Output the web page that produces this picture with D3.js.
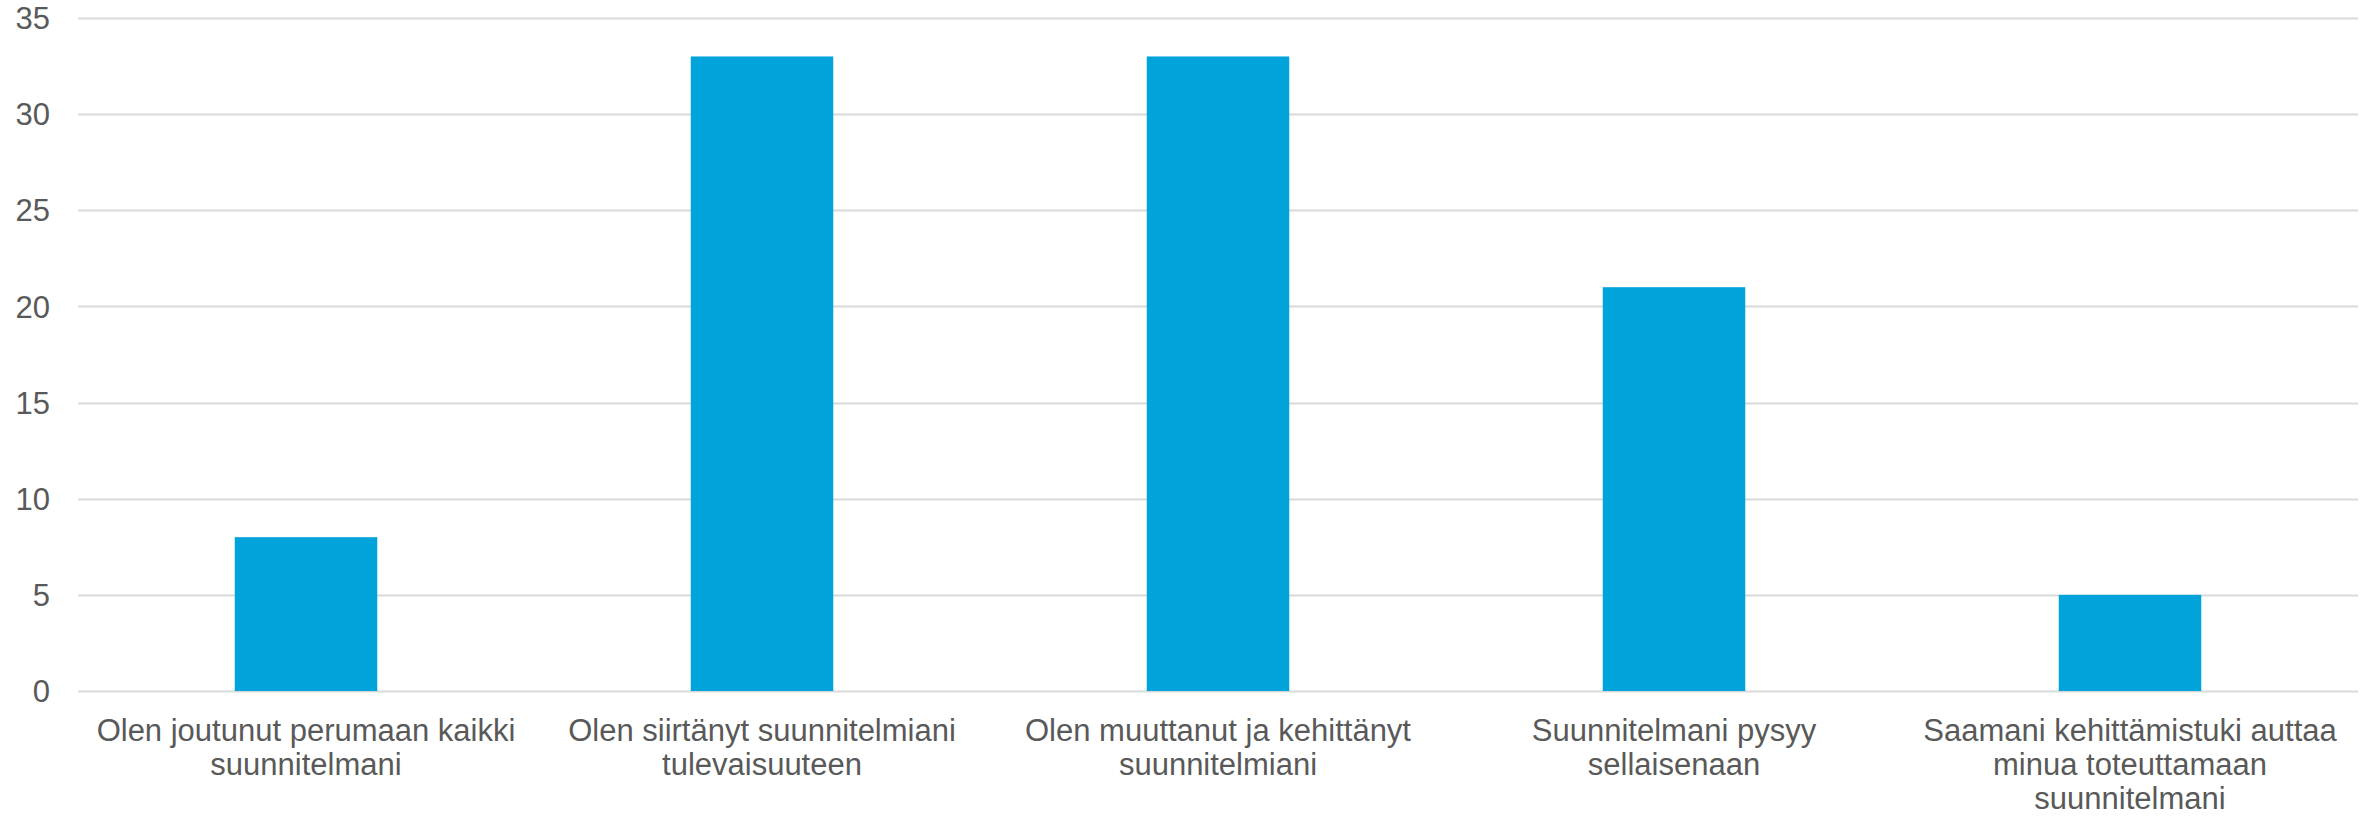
<!DOCTYPE html>
<html>
<head>
<meta charset="utf-8">
<script src="https://cdn.jsdelivr.net/npm/d3@7"></script>
<style>
    body { margin: 0; background: #fff; }
    svg text { font-family: 'Liberation Sans', Arial, sans-serif; fill: #595959; }
</style>
</head>
<body>
<div id="chart"></div>
<script>
// data
const categories = [
    'Olen joutunut perumaan kaikki suunnitelmani',
    'Olen siirtänyt suunnitelmiani tulevaisuuteen',
    'Olen muuttanut ja kehittänyt suunnitelmiani',
    'Suunnitelmani pysyy sellaisenaan',
    'Saamani kehittämistuki auttaa minua toteuttamaan suunnitelmani'
];
const labelLines = [
    ['Olen joutunut perumaan kaikki', 'suunnitelmani'],
    ['Olen siirtänyt suunnitelmiani', 'tulevaisuuteen'],
    ['Olen muuttanut ja kehittänyt', 'suunnitelmiani'],
    ['Suunnitelmani pysyy', 'sellaisenaan'],
    ['Saamani kehittämistuki auttaa', 'minua toteuttamaan', 'suunnitelmani']
];
const values = [8, 33, 33, 21, 5];
const yTicks = [0, 5, 10, 15, 20, 25, 30, 35];

const width = 2376, height = 817;
const margin = {top: 18, right: 18, bottom: 126, left: 78};

const svg = d3.select('#chart')
    .append('svg')
    .attr('width', width)
    .attr('height', height);

const x = d3.scaleBand()
    .domain(categories)
    .range([margin.left, width - margin.right])
    .padding(0);

const y = d3.scaleLinear()
    .domain([0, 35])
    .range([height - margin.bottom, margin.top]);

const barW = x.bandwidth() * 0.3125;

// gridlines
svg.append('g')
    .selectAll('line')
    .data(yTicks)
    .enter()
    .append('line')
    .attr('x1', margin.left)
    .attr('x2', width - margin.right)
    .attr('y1', (d) => Math.round(y(d)) + 0.5)
    .attr('y2', (d) => Math.round(y(d)) + 0.5)
    .attr('stroke', '#d9d9d9')
    .attr('stroke-width', 2);

// y tick labels
svg.append('g')
    .selectAll('text')
    .data(yTicks)
    .enter()
    .append('text')
    .attr('x', 50)
    .attr('y', (d) => y(d))
    .attr('dy', '0.36em')
    .attr('text-anchor', 'end')
    .style('font-size', '31px')
    .text((d) => d);

// bars
svg.append('g')
    .selectAll('rect')
    .data(values)
    .enter()
    .append('rect')
    .attr('x', (d, i) => x(categories[i]) + (x.bandwidth() - barW) / 2)
    .attr('y', (d) => y(d))
    .attr('width', barW)
    .attr('height', (d) => y(0) - y(d))
    .attr('fill', '#00a3da');

// x labels
const xl = svg.append('g')
    .selectAll('text')
    .data(labelLines)
    .enter()
    .append('text')
    .attr('text-anchor', 'middle')
    .style('font-size', '31px');
xl.each(function (lines, i) {
    const t = d3.select(this);
    lines.forEach((l, j) => {
        t.append('tspan')
            .attr('x', x(categories[i]) + x.bandwidth() / 2)
            .attr('y', 741 + j * 34)
            .text(l);
    });
});
</script>
</body>
</html>
